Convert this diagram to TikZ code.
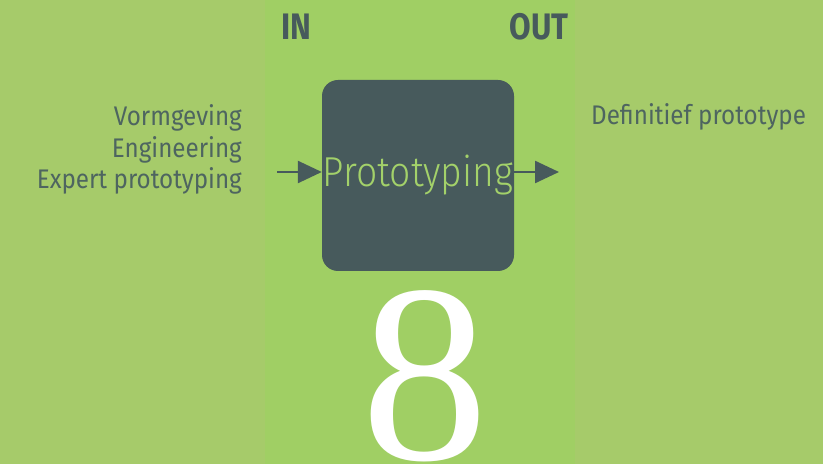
\documentclass[tikz,border=0pt]{standalone}
\usepackage{fontspec}
\setmainfont{Fira Sans}
\newfontfamily\condlight[FakeStretch=0.89]{Fira Sans Light}
\newfontfamily\condreg[FakeStretch=0.9]{Fira Sans}
\newfontfamily\condbold[FakeStretch=0.85]{Fira Sans}[BoldFont={* Bold}]
\newfontfamily\eightfont{Liberation Serif}
\usetikzlibrary{arrows.meta}
\definecolor{bgout}{HTML}{A6CB6A}
\definecolor{bgband}{HTML}{A0CF64}
\definecolor{slate}{HTML}{475A5C}
\definecolor{labelc}{HTML}{4E6560}
\definecolor{lightg}{HTML}{A3D16A}
\tikzset{
  lbl/.style={font=\condreg\fontsize{27}{32}\selectfont, text=labelc, inner sep=0pt},
  head/.style={font=\condbold\bfseries\fontsize{37}{37}\selectfont, text=slate, inner sep=0pt},
  flow/.style={draw=slate, line width=2.5bp, -{Triangle[length=24bp,width=22bp]}},
}
\begin{document}
\begin{tikzpicture}[x=1bp,y=-1bp]
\fill[bgout] (0,0) rectangle (823,464);
\fill[bgband] (265,0) rectangle (575,464);
\useasboundingbox (0,0) rectangle (823,464);
\fill[slate, rounded corners=16bp] (322,80) rectangle (514,271);
\node[inner sep=0pt, minimum width=192bp, minimum height=191bp] (box) at (418,175.5) {};
\node[font=\condlight\fontsize{42}{42}\selectfont, text=lightg, inner sep=0pt, anchor=base] (ptxt) at (418,187) {Prototyping};
\node[head, anchor=base] (in) at (296,40) {IN};
\node[head, anchor=base] (out) at (539,40) {OUT};
\node[lbl, anchor=base east, align=right] (inputs) at (242,189) {Vormgeving\\Engineering\\Expert prototyping};
\node[lbl, anchor=base west] (outputs) at (591,125) {Definitief prototype};
\coordinate (inStart) at (277,172);
\coordinate (outEnd) at (559,172);
\draw[flow] (inStart) -- (box.west |- inStart);
\draw[flow] (box.east |- outEnd) -- (outEnd);
\node[font=\eightfont\fontsize{255}{255}\selectfont, text=white, inner sep=0pt, anchor=base] (eight) at (425,459) {8};
\end{tikzpicture}
\end{document}
